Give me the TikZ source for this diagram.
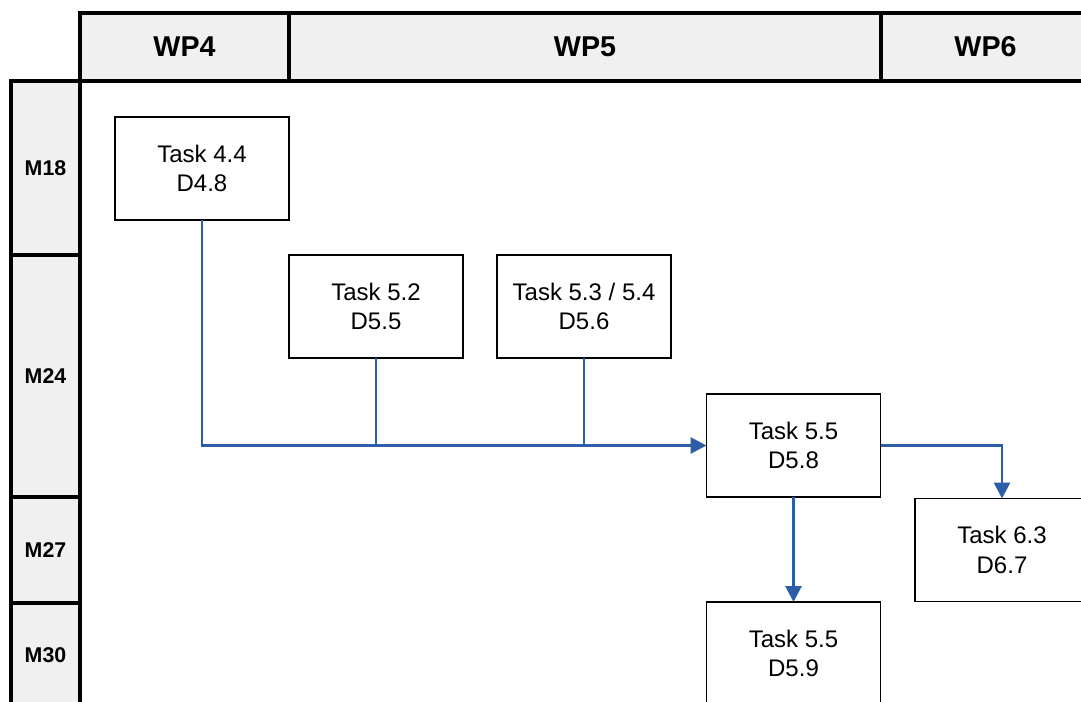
\documentclass[tikz,border=0pt]{standalone}
\usepackage{fontspec}
\setmainfont{Liberation Sans}
\usetikzlibrary{arrows.meta}
\definecolor{hdrgray}{RGB}{240,240,240}
\definecolor{linkblue}{RGB}{44,94,168}
\begin{document}
\begin{tikzpicture}[x=0.75pt,y=-0.75pt,
  hdr/.style={draw=black, fill=hdrgray, line width=2.5pt, outer sep=0pt, inner sep=0pt,
    minimum height=51pt, font=\bfseries\fontsize{21.5}{26}\selectfont},
  mon/.style={draw=black, fill=hdrgray, line width=2.5pt, outer sep=0pt, inner sep=0pt,
    minimum width=51.75pt, font=\bfseries\fontsize{16}{19}\selectfont},
  task/.style={draw=black, fill=white, line width=1.1pt, outer sep=0pt, inner sep=0pt,
    minimum width=130.5pt, minimum height=77.25pt, align=center,
    font=\fontsize{18}{22}\selectfont},
  link/.style={draw=linkblue, line width=2.2pt},
  arrow/.style={link, -{Triangle[length=12pt,width=12pt]}}
]
\clip (0,0) rectangle (1081,702);
\fill[white] (0,0) rectangle (1081,702);
% header
\node[hdr, minimum width=156.75pt] (wp4) at (184.5,47) {WP4};
\node[hdr, minimum width=444pt] (wp5) at (585,47) {WP5};
\node[hdr, minimum width=156.75pt] (wp6) at (985.5,47) {WP6};
% months
\node[mon, minimum height=130.5pt] (m18) at (45.5,168) {M18};
\node[mon, minimum height=181.5pt] (m24) at (45.5,376) {M24};
\node[mon, minimum height=79.5pt] (m27) at (45.5,550) {M27};
\node[mon, minimum height=78pt] (m30) at (45.5,655) {M30};
% tasks
\node[task] (t44) at (202,168.5) {Task 4.4\\D4.8};
\node[task] (t52) at (376,306.5) {Task 5.2\\D5.5};
\node[task] (t53) at (584,306.5) {Task 5.3 / 5.4\\D5.6};
\node[task] (t55a) at (793.5,445.5) {Task 5.5\\D5.8};
\node[task] (t63) at (1002,550) {Task 6.3\\D6.7};
\node[task] (t55b) at (793.5,653.5) {Task 5.5\\D5.9};
% connectors
\draw[arrow] (t44.south) |- (t55a.west);
\draw[link] (t52.south) -- (t52.south |- t55a.west);
\draw[link] (t53.south) -- (t53.south |- t55a.west);
\draw[arrow] (t55a.east) -| (t63.north);
\draw[arrow] (t55a.south) -- (t55b.north);
\end{tikzpicture}
\end{document}
